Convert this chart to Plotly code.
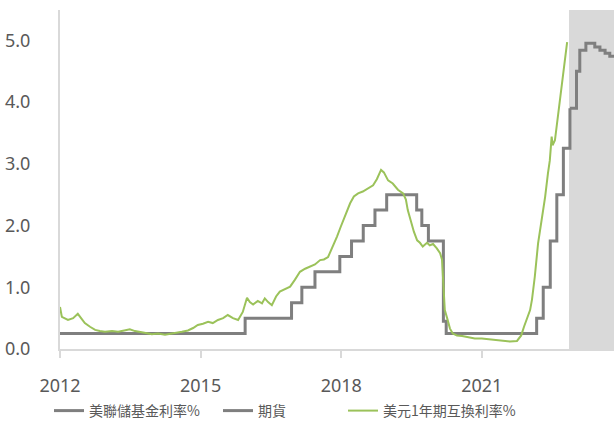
import plotly.graph_objects as go

# ---- data (x = decimal year) ----
fed_x = [2012.00, 2015.95, 2016.94, 2017.16, 2017.44, 2017.97, 2018.22, 2018.47, 2018.72,
         2018.97, 2019.61, 2019.72, 2019.86, 2020.18, 2020.24, 2022.17, 2022.31, 2022.46,
         2022.60, 2022.74, 2022.88]
fed_y = [0.25, 0.50, 0.75, 1.00, 1.25, 1.50, 1.75, 2.00, 2.25,
         2.50, 2.25, 2.00, 1.75, 0.45, 0.25, 0.50, 1.00, 1.75,
         2.50, 3.25, 3.90]

fut_x = [2022.88, 2023.02, 2023.09, 2023.22, 2023.41, 2023.52, 2023.63, 2023.73, 2023.82]
fut_y = [3.90, 4.50, 4.84, 4.95, 4.89, 4.84, 4.79, 4.74, 4.74]

swap_x = [2012.00, 2012.04, 2012.17, 2012.28, 2012.38, 2012.53, 2012.64, 2012.75, 2012.85, 2012.96,
          2013.11, 2013.24, 2013.37, 2013.49, 2013.60, 2013.71, 2013.83, 2013.96, 2014.09, 2014.24,
          2014.35, 2014.45, 2014.60, 2014.73, 2014.84, 2014.94, 2015.05, 2015.16, 2015.26, 2015.37,
          2015.48, 2015.58, 2015.69, 2015.80, 2015.90, 2015.99, 2016.05, 2016.12, 2016.22, 2016.31,
          2016.37, 2016.44, 2016.52, 2016.61, 2016.69, 2016.80, 2016.91, 2017.01, 2017.12, 2017.23,
          2017.33, 2017.44, 2017.55, 2017.63, 2017.72, 2017.80, 2017.91, 2017.99, 2018.08, 2018.19,
          2018.27, 2018.36, 2018.46, 2018.57, 2018.68, 2018.76, 2018.85, 2018.91, 2019.00, 2019.10,
          2019.21, 2019.32, 2019.38, 2019.42, 2019.47, 2019.51, 2019.55, 2019.62, 2019.68, 2019.74,
          2019.83, 2019.89, 2019.96, 2020.04, 2020.11, 2020.15, 2020.18, 2020.21, 2020.26, 2020.32,
          2020.38, 2020.47, 2020.58, 2020.70, 2020.85, 2021.00, 2021.13, 2021.28, 2021.45, 2021.60,
          2021.75, 2021.84, 2021.90, 2021.96, 2022.03, 2022.07, 2022.13, 2022.20, 2022.28, 2022.35,
          2022.41, 2022.45, 2022.49, 2022.51, 2022.56, 2022.63, 2022.70, 2022.74, 2022.77, 2022.82]
swap_y = [0.68, 0.52, 0.47, 0.50, 0.57, 0.42, 0.36, 0.31, 0.29, 0.28,
          0.29, 0.28, 0.30, 0.32, 0.29, 0.28, 0.26, 0.24, 0.25, 0.23,
          0.24, 0.26, 0.28, 0.30, 0.34, 0.39, 0.41, 0.44, 0.42, 0.47,
          0.50, 0.55, 0.50, 0.47, 0.60, 0.83, 0.76, 0.72, 0.78, 0.74,
          0.82, 0.76, 0.71, 0.85, 0.93, 0.97, 1.01, 1.12, 1.25, 1.30,
          1.33, 1.37, 1.44, 1.45, 1.49, 1.62, 1.82, 1.98, 2.15, 2.36,
          2.47, 2.52, 2.55, 2.60, 2.65, 2.75, 2.90, 2.86, 2.73, 2.68,
          2.58, 2.52, 2.42, 2.25, 2.10, 1.98, 1.90, 1.76, 1.72, 1.66,
          1.72, 1.68, 1.70, 1.63, 1.55, 1.45, 1.01, 0.63, 0.50, 0.33,
          0.25, 0.22, 0.21, 0.19, 0.17, 0.17, 0.16, 0.15, 0.13, 0.12,
          0.13, 0.22, 0.36, 0.50, 0.63, 0.80, 1.17, 1.71, 2.09, 2.46,
          2.84, 3.05, 3.44, 3.30, 3.38, 3.81, 4.24, 4.57, 4.73, 4.97]

names = ["美聯儲基金利率%", "期貨", "美元1年期互換利率%"]
year_ticks = [2012, 2015, 2018, 2021]
year_labels = ["2012", "2015", "2018", "2021"]
y_ticks = [0, 1, 2, 3, 4, 5]
y_labels = ["0.0", "1.0", "2.0", "3.0", "4.0", "5.0"]
shade_start, shade_end = 2022.86, 2023.82

GRAY = "#7f7f7f"
GREEN = "#9bc25a"
TXT = "#595959"

fig = go.Figure()
fig.add_trace(go.Scatter(x=fed_x, y=fed_y, mode="lines", line=dict(color=GRAY, width=3, shape="hv"),
                         name=names[0], legend="legend2", showlegend=True))
fig.add_trace(go.Scatter(x=fut_x, y=fut_y, mode="lines", line=dict(color=GRAY, width=3, shape="hv"),
                         name=names[1], legend="legend3", showlegend=True))
fig.add_trace(go.Scatter(x=swap_x, y=swap_y, mode="lines", line=dict(color=GREEN, width=2),
                         name=names[2], legend="legend4", showlegend=True))

fig.add_shape(type="rect", xref="x", yref="paper", x0=shade_start, x1=shade_end, y0=0, y1=1,
              fillcolor="#d9d9d9", line=dict(width=0), layer="below")

leg_font = dict(family="Noto Sans CJK TC, Noto Sans", size=14, color=TXT)
common = dict(orientation="h", yref="container", xref="container", yanchor="middle",
              y=1 - 411 / 423, xanchor="left", font=leg_font,
              bgcolor="rgba(0,0,0,0)", borderwidth=0)
fig.update_layout(
    width=614, height=423,
    margin=dict(l=60, r=0, t=10, b=74, autoexpand=False),
    paper_bgcolor="white", plot_bgcolor="white",
    font=dict(family="Noto Sans", color=TXT),
    showlegend=True,
    legend2=dict(x=49 / 614, **common),
    legend3=dict(x=218 / 614, **common),
    legend4=dict(x=343 / 614, **common),
    xaxis=dict(range=[2012, shade_end], tickvals=year_ticks, ticktext=year_labels,
               showgrid=False, zeroline=False, showline=True, linecolor="#d9d9d9", linewidth=2,
               ticks="outside", ticklen=7, tickcolor="#d9d9d9", tickwidth=2,
               tickfont=dict(size=18, color=TXT), ticklabelstandoff=12),
    yaxis=dict(range=[0, 5.49], tickvals=y_ticks, ticktext=y_labels,
               showgrid=False, zeroline=False, showline=True, linecolor="#d9d9d9", linewidth=2,
               ticks="", tickfont=dict(size=18, color=TXT), ticklabelstandoff=24),
)

fig.write_html("out.html")
